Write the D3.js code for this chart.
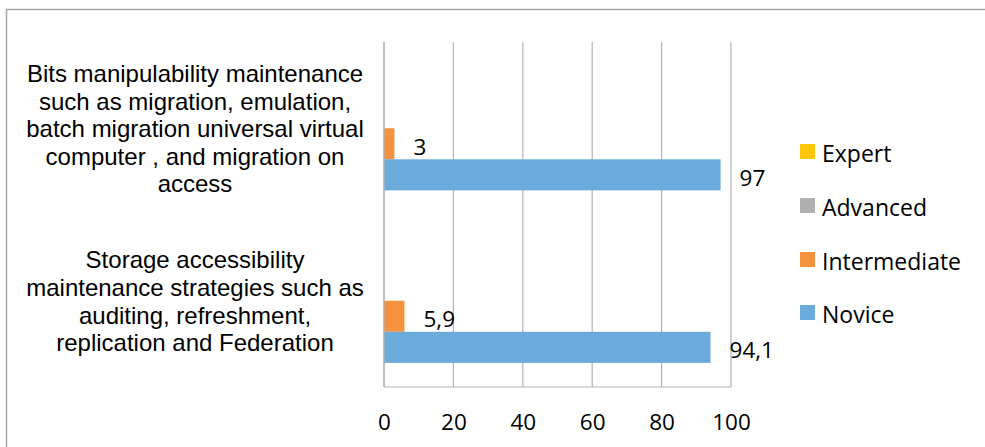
<!DOCTYPE html>
<html>
<head>
<meta charset="utf-8">
<script src="https://cdnjs.cloudflare.com/ajax/libs/d3/7.8.5/d3.min.js"></script>
<style>
  body { margin: 0; background: #fff; }
  svg { display: block; }
</style>
</head>
<body>
<div id="chart"></div>
<script>
const width = 985, height = 447;

// data
const categories = ["Bits", "Storage"];
const categoryLines = [
  ["Bits manipulability maintenance", "such as migration, emulation,", "batch migration universal virtual", "computer , and migration on", "access"],
  ["Storage accessibility", "maintenance strategies such as", "auditing, refreshment,", "replication and Federation"]
];
const seriesNames = ["Expert", "Advanced", "Intermediate", "Novice"];
const seriesColors = ["#ffc60b", "#b0b0b0", "#f5923e", "#6aabdc"];
const expert = [0, 0];
const advanced = [0, 0];
const intermediate = [3, 5.9];
const novice = [97, 94.1];
const xTicks = [0, 20, 40, 60, 80, 100];

const seriesValues = [expert, advanced, intermediate, novice];

const plot = {left: 384, right: 731, top: 42, bottom: 387};

let svg = d3.select("#chart").
append("svg").
attr("width", width).
attr("height", height);

// outer chart border
svg.append("rect").
attr("x", 6.5).
attr("y", 9.5).
attr("width", width + 20).
attr("height", height + 20).
attr("fill", "none").
attr("stroke", "#a6a6a6").
attr("stroke-width", 1.5);

const xScale = d3.scaleLinear().
domain([0, 100]).
range([plot.left, plot.right]);

const y0 = d3.scaleBand().
domain(categories).
range([plot.top, plot.bottom]).
paddingInner(0.28).
paddingOuter(0.14);

const y1 = d3.scaleBand().
domain(seriesNames).
range([0, y0.bandwidth()]);

// gridlines
svg.append("g").
selectAll("line").
data(xTicks).
enter().
append("line").
attr("x1", d => xScale(d)).
attr("x2", d => xScale(d)).
attr("y1", plot.top).
attr("y2", plot.bottom).
attr("stroke", "#b3b3b3").
attr("stroke-width", 1.2);

// bottom axis line
svg.append("line").
attr("x1", plot.left).
attr("x2", plot.right).
attr("y1", plot.bottom).
attr("y2", plot.bottom).
attr("stroke", "#b3b3b3").
attr("stroke-width", 1.2);

// tick labels
const xAxis = d3.axisBottom(xScale).tickValues(xTicks).tickSize(0).tickPadding(0);
let axisG = svg.append("g").
attr("transform", "translate(0," + 430 + ")").
call(xAxis);
axisG.select(".domain").remove();
axisG.selectAll("text").
attr("dy", 0).
attr("y", 0).
style("font-family", "'Open Sans', sans-serif").
style("font-size", "22.5px").
attr("fill", "#000");

// bars
const rows = [];
categories.forEach((c, ci) => {
  seriesNames.forEach((s, si) => {
    rows.push({cat: c, ci: ci, series: s, si: si, value: seriesValues[si][ci]});
  });
});

svg.append("g").
selectAll("rect").
data(rows.filter(d => d.value > 0)).
enter().
append("rect").
attr("x", xScale(0)).
attr("y", d => y0(d.cat) + y1(d.series)).
attr("width", d => xScale(d.value) - xScale(0)).
attr("height", y1.bandwidth()).
attr("fill", d => seriesColors[d.si]);

// left axis line (drawn over bars)
svg.append("line").
attr("x1", plot.left).
attr("x2", plot.left).
attr("y1", plot.top).
attr("y2", plot.bottom).
attr("stroke", "#b3b3b3").
attr("stroke-width", 1.2);

// data labels
svg.append("g").
selectAll("text").
data(rows.filter(d => d.value > 0)).
enter().
append("text").
attr("x", d => xScale(d.value) + 19).
attr("y", d => y0(d.cat) + y1(d.series) + y1.bandwidth() / 2 + 11).
style("font-family", "'Open Sans', sans-serif").
style("font-size", "22.5px").
text(d => String(d.value).replace(".", ","));

// category labels
const lineH = 27.6;
categoryLines.forEach((lines, ci) => {
  const cy = y0(categories[ci]) + y0.bandwidth() / 2;
  const first = cy - (lines.length - 1) / 2 * lineH + 9;
  let t = svg.append("text").
  attr("text-anchor", "middle").
  style("font-family", "'Liberation Sans', Arial, sans-serif").
  style("font-size", "24px");
  lines.forEach((ln, li) => {
    t.append("tspan").
    attr("x", 195).
    attr("y", first + li * lineH).
    text(ln);
  });
});

// legend
const legendTops = [144, 198, 252, 305];
let legend = svg.append("g").
selectAll("g").
data(seriesNames).
enter().
append("g");
legend.append("rect").
attr("x", 800).
attr("y", (d, i) => legendTops[i]).
attr("width", 15).
attr("height", 15).
attr("fill", (d, i) => seriesColors[i]);
legend.append("text").
attr("x", 822).
attr("y", (d, i) => legendTops[i] + 18).
style("font-family", "'Open Sans', sans-serif").
style("font-size", "23px").
text(d => d);
</script>
</body>
</html>
